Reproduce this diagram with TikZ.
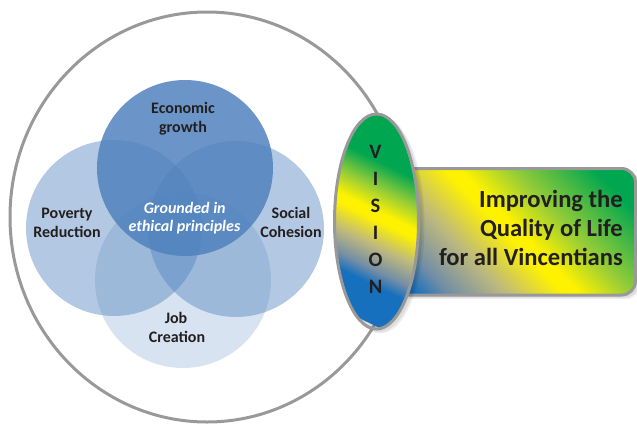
\documentclass[tikz,border=0pt]{standalone}
\usepackage{fontspec}
\setmainfont{Carlito}
\definecolor{vblue}{RGB}{22,112,190}
\definecolor{vgblue}{RGB}{115,142,165}
\definecolor{vtan}{RGB}{190,185,125}
\definecolor{vyellow}{RGB}{255,242,0}
\definecolor{vygreen}{RGB}{150,205,55}
\definecolor{vgreen}{RGB}{0,166,80}
\definecolor{venn}{RGB}{79,129,189}
\definecolor{rimgray}{RGB}{153,153,153}
\definecolor{labeltext}{RGB}{35,31,32}
\pgfdeclarehorizontalshading{rectgrad}{100bp}{color(0bp)=(vblue); color(30.8bp)=(vblue); color(35bp)=(vgblue); color(41.7bp)=(vtan); color(48.7bp)=(vyellow); color(50.5bp)=(vyellow); color(56.7bp)=(vygreen); color(66.7bp)=(vgreen); color(100bp)=(vgreen)}
\pgfdeclarehorizontalshading{visgrad}{100bp}{color(0bp)=(vblue); color(34bp)=(vblue); color(37.5bp)=(vgblue); color(43bp)=(vtan); color(49bp)=(vyellow); color(51bp)=(vyellow); color(56.25bp)=(vygreen); color(62.5bp)=(vgreen); color(100bp)=(vgreen)}
\begin{document}
\begin{tikzpicture}[x=1pt,y=-1pt,
  vennlbl/.style={anchor=base, inner sep=0pt, text=labeltext, font=\bfseries\fontsize{16}{19}\selectfont},
  corelbl/.style={anchor=base, inner sep=0pt, text=white, font=\bfseries\itshape\fontsize{16}{19}\selectfont},
  visionlbl/.style={anchor=base, inner sep=0pt, text=labeltext, font=\bfseries\fontsize{20.5}{24}\selectfont},
  goallbl/.style={anchor=base east, inner sep=0pt, text=labeltext, font=\bfseries\fontsize{24.6}{29}\selectfont},
  rim/.style={draw=rimgray, line width=3pt},
  shadowfill/.style={fill=black, fill opacity=0.07},
]
\useasboundingbox (0,0) rectangle (637,426);
% outer ring
\draw[rim] (207,217) ellipse [x radius=197, y radius=205];
% venn circles
\fill[venn, fill opacity=0.22] (183,280) circle [radius=88];
\fill[venn, fill opacity=0.43] (114,228) circle [radius=88];
\fill[venn, fill opacity=0.43] (236,229) circle [radius=88];
\fill[venn, fill opacity=0.84] (185,168) circle [radius=88];
% venn labels
\node[vennlbl] (econ1) at (183,113.8) {Economic};
\node[vennlbl] (econ2) at (183,132) {growth};
\node[vennlbl] (pov1) at (67,218.5) {Poverty};
\node[vennlbl] (pov2) at (67,237.5) {Reduction};
\node[vennlbl] (soc1) at (291,218.5) {Social};
\node[vennlbl] (soc2) at (291,237.5) {Cohesion};
\node[vennlbl] (job1) at (176,323.5) {Job};
\node[vennlbl] (job2) at (177,342.5) {Creation};
\node[corelbl] (core1) at (184.7,213.3) {Grounded in};
\node[corelbl] (core2) at (184.5,231.7) {ethical principles};
% goal box
\fill[shadowfill, rounded corners=14] (398,171) rectangle (640,299);
\fill[shadowfill, rounded corners=14] (397,170) rectangle (639,297.5);
\begin{scope}
  \clip[rounded corners=14] (395,168.5) rectangle (635.5,295);
  \begin{scope}[transform canvas={shift={(516,232)}, rotate=44}]
    \shade[shading=rectgrad] (-150,-200) rectangle (150,200);
  \end{scope}
\end{scope}
\draw[rim, rounded corners=14] (395,168.5) rectangle (635.5,295);
% vision ellipse
\fill[shadowfill] (380.5,224.5) ellipse [x radius=44, y radius=109];
\fill[shadowfill] (379.5,223.5) ellipse [x radius=43, y radius=108.5];
\begin{scope}
  \clip (376.5,221.5) ellipse [x radius=42, y radius=107.5];
  \begin{scope}[transform canvas={shift={(376,215)}, rotate=64}]
    \shade[shading=visgrad] (-100,-150) rectangle (100,150);
  \end{scope}
\end{scope}
\draw[rim] (376.5,221.5) ellipse [x radius=42, y radius=107.5];
\node[visionlbl] (v1) at (375.5,158.3) {V};
\node[visionlbl] (v2) at (375.5,185.3) {I};
\node[visionlbl] (v3) at (375.5,212.3) {S};
\node[visionlbl] (v4) at (375.5,239.3) {I};
\node[visionlbl] (v5) at (375.5,266.3) {O};
\node[visionlbl] (v6) at (375.5,293.3) {N};
% goal text
\node[goallbl] (goal1) at (623,207.3) {Improving the};
\node[goallbl] (goal2) at (623,236.7) {Quality of Life};
\node[goallbl] (goal3) at (623,265.7) {for all Vincentians};
\end{tikzpicture}
\end{document}
